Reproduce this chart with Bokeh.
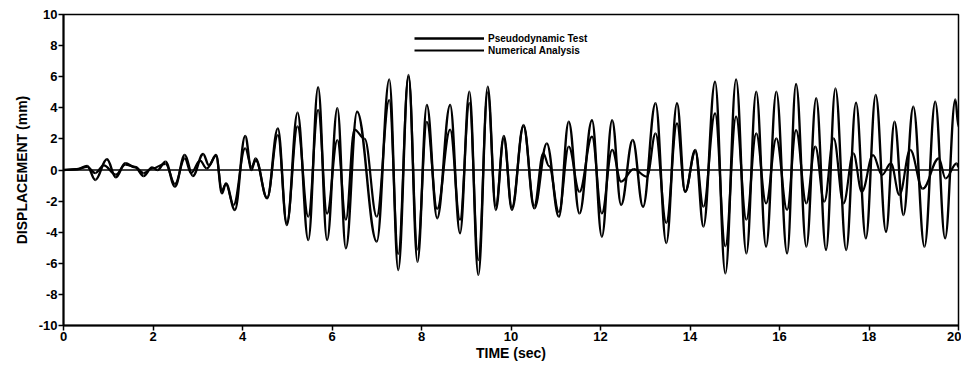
from bokeh.plotting import figure
from bokeh.models import Span, Range1d, FixedTicker, Legend, LegendItem, ColumnDataSource
from bokeh.embed import file_html
from bokeh.resources import INLINE

# Pseudodynamic Test (larger-amplitude trace), extrema
t_test = [0.0, 0.3, 0.53, 0.71, 0.97, 1.17, 1.38, 1.6, 1.79, 1.98, 2.1, 2.28, 2.49, 2.71, 2.89,
          3.12, 3.25, 3.41, 3.54, 3.63, 3.83, 4.06, 4.2, 4.29, 4.55, 4.79, 4.99, 5.23, 5.47,
          5.69, 5.89, 6.12, 6.31, 6.56, 7.0, 7.28, 7.48, 7.71, 7.91, 8.12, 8.35, 8.64, 8.86,
          9.07, 9.27, 9.48, 9.66, 9.84, 10.02, 10.28, 10.52, 10.8, 11.07, 11.29, 11.53, 11.81,
          12.03, 12.26, 12.46, 12.72, 12.95, 13.23, 13.47, 13.71, 13.89, 14.12, 14.3, 14.56,
          14.79, 15.03, 15.26, 15.48, 15.7, 15.93, 16.17, 16.37, 16.6, 16.82, 17.04, 17.25,
          17.49, 17.71, 17.93, 18.15, 18.38, 18.57, 18.77, 18.99, 19.24, 19.48, 19.7, 19.93, 20.0]
d_test = [0.0, 0.05, 0.26, -0.64, 0.69, -0.47, 0.43, 0.17, -0.39, 0.17, 0.0, 0.54, -1.07, 0.96, -0.39,
          1.03, 0.3, 0.96, -1.5, -0.86, -2.57, 2.19, 0.0, 0.75, -1.82, 2.68, -3.54, 3.69, -4.5,
          5.32, -4.5, 3.97, -5.04, 3.75, -4.6, 5.83, -6.43, 6.11, -5.9, 4.18, -3.1, 4.18, -4.07,
          5.04, -6.75, 5.36, -2.57, 2.19, -2.57, 2.89, -2.47, 1.71, -3.0, 3.1, -2.79, 3.2,
          -4.29, 3.2, -2.25, 1.93, -2.36, 4.29, -4.7, 4.29, -1.4, 1.29, -3.64, 5.68,
          -6.65, 5.83, -5.36, 5.04, -4.93, 5.04, -5.36, 5.53, -4.93, 4.61, -5.14, 5.25,
          -5.14, 4.33, -4.39, 4.82, -3.97, 3.1, -2.89, 4.07, -4.93, 4.39, -4.39, 4.54, 2.8]

# Numerical Analysis (smaller-amplitude trace)
t_num = [0.0, 0.3, 0.53, 0.71, 0.9, 1.17, 1.38, 1.6, 1.79, 1.98, 2.28, 2.49, 2.71, 2.85, 3.05,
         3.2, 3.41, 3.54, 3.63, 3.8, 4.06, 4.2, 4.3, 4.55, 4.79, 4.99, 5.23, 5.47, 5.69, 5.89,
         6.12, 6.31, 6.5, 6.73, 7.0, 7.28, 7.48, 7.71, 7.91, 8.12, 8.35, 8.64, 8.86, 9.07,
         9.27, 9.48, 9.66, 9.84, 10.02, 10.28, 10.52, 10.72, 10.85, 11.07, 11.29, 11.53,
         11.81, 12.03, 12.26, 12.46, 12.74, 13.04, 13.23, 13.47, 13.71, 13.89, 14.12, 14.3,
         14.56, 14.79, 15.03, 15.26, 15.48, 15.7, 15.93, 16.17, 16.37, 16.6, 16.8, 17.0,
         17.21, 17.43, 17.65, 17.84, 18.09, 18.29, 18.49, 18.68, 18.92, 19.2, 19.56, 19.71,
         19.96, 20.0]
d_num = [0.0, 0.05, 0.2, -0.2, 0.3, -0.3, 0.35, 0.2, -0.2, 0.1, 0.4, -0.9, 0.75, -0.2, 0.6,
         0.1, 0.9, -1.3, -0.9, -2.25, 1.4, 0.2, 0.6, -1.8, 2.25, -3.4, 2.8, -3.0, 3.86, -2.8,
         1.93, -3.2, 2.6, 2.0, -3.0, 4.5, -5.4, 6.0, -5.1, 3.1, -2.5, 2.6, -3.2, 4.3,
         -5.8, 5.0, -2.3, 2.0, -2.4, 2.8, -2.3, 1.07, 0.25, -2.7, 1.5, -1.4,
         2.14, -2.79, 1.29, -0.75, 0.05, -0.43, 2.36, -3.4, 3.0, -1.4, 1.2, -2.36,
         3.64, -4.9, 3.43, -3.2, 2.36, -2.14, 2.04, -2.57, 2.57, -2.14, 1.5, -2.04,
         2.04, -2.14, 1.07, -1.4, 0.96, -0.32, 0.43, -1.6, 1.29, -1.2, 0.75, -0.54,
         0.43, 0.2]

x_ticks = [0, 2, 4, 6, 8, 10, 12, 14, 16, 18, 20]
y_ticks = [-10, -8, -6, -4, -2, 0, 2, 4, 6, 8, 10]
y_tick_labels = ["-10", "-8", "-6", "-4", "-2", "0", "2", "4", "6", "8", "10"]

FONT = "Liberation Sans"


def smooth_segments(ts, ds, k=0.38):
    """Cubic segments between consecutive read points, flat at each read point."""
    x0, y0, x1, y1, cx0, cy0, cx1, cy1 = [], [], [], [], [], [], [], []
    for i in range(len(ts) - 1):
        dt = ts[i + 1] - ts[i]
        x0.append(ts[i]); y0.append(ds[i])
        x1.append(ts[i + 1]); y1.append(ds[i + 1])
        cx0.append(ts[i] + k * dt); cy0.append(ds[i])
        cx1.append(ts[i + 1] - k * dt); cy1.append(ds[i + 1])
    return ColumnDataSource(dict(x0=x0, y0=y0, x1=x1, y1=y1,
                                 cx0=cx0, cy0=cy0, cx1=cx1, cy1=cy1))


p = figure(width=961, height=364, output_backend="svg", toolbar_location=None,
           x_range=Range1d(0, 20), y_range=Range1d(-10, 10))
p.min_border_left = 63
p.min_border_right = 3
p.min_border_top = 14
p.min_border_bottom = 39
p.background_fill_color = "white"
p.border_fill_color = "white"
p.outline_line_color = "black"
p.outline_line_width = 1.5
p.grid.visible = False

p.add_layout(Span(location=0, dimension="width", line_color="black", line_width=1.5))

r1 = p.bezier(x0="x0", y0="y0", x1="x1", y1="y1", cx0="cx0", cy0="cy0", cx1="cx1", cy1="cy1",
              source=smooth_segments(t_test, d_test), line_color="black", line_width=2.4)
r2 = p.bezier(x0="x0", y0="y0", x1="x1", y1="y1", cx0="cx0", cy0="cy0", cx1="cx1", cy1="cy1",
              source=smooth_segments(t_num, d_num), line_color="black", line_width=2.2)

for ax in (p.xaxis[0], p.yaxis[0]):
    ax.axis_line_color = "black"
    ax.axis_line_width = 2
    ax.major_tick_line_color = "black"
    ax.major_tick_line_width = 1.5
    ax.major_tick_in = 0
    ax.major_tick_out = 5
    ax.minor_tick_line_color = None
    ax.major_label_text_font = FONT
    ax.major_label_text_font_style = "bold"
    ax.major_label_text_font_size = "13px"
    ax.major_label_text_color = "black"
    ax.axis_label_text_font = FONT
    ax.axis_label_text_font_style = "bold"
    ax.axis_label_text_font_size = "14px"
    ax.axis_label_text_color = "black"
    ax.major_label_standoff = 1
    ax.axis_label_standoff = 1

p.xaxis[0].ticker = FixedTicker(ticks=x_ticks)
p.yaxis[0].ticker = FixedTicker(ticks=y_ticks)
p.yaxis[0].major_label_overrides = {t: s for t, s in zip(y_ticks, y_tick_labels)}
p.xaxis[0].axis_label = "TIME (sec)"
p.yaxis[0].axis_label = "DISPLACEMENT (mm)"
p.yaxis[0].axis_label_standoff = 6

legend = Legend(items=[LegendItem(label="Pseudodynamic Test", renderers=[r1]),
                       LegendItem(label="Numerical Analysis", renderers=[r2])],
                location=(351, 269))
legend.border_line_color = None
legend.background_fill_alpha = 0
legend.glyph_width = 70
legend.glyph_height = 12
legend.label_height = 12
legend.spacing = 0
legend.padding = 2
legend.margin = 0
legend.label_standoff = 4
legend.label_text_font = FONT
legend.label_text_font_style = "bold"
legend.label_text_font_size = "10px"
legend.label_text_color = "black"
p.add_layout(legend, "center")

open("out.html", "w").write(file_html(p, INLINE))
